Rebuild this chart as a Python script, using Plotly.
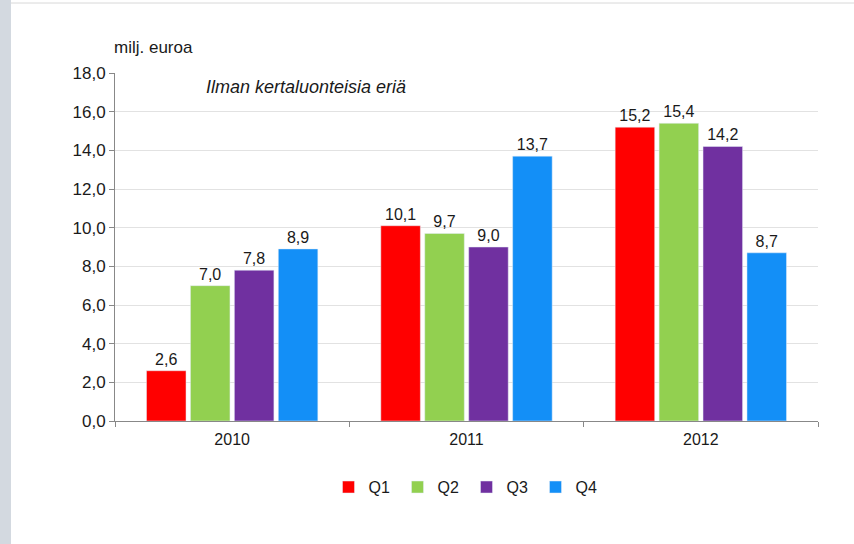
import plotly.graph_objects as go

years = ["2010", "2011", "2012"]
quarters = ["Q1", "Q2", "Q3", "Q4"]
values = {
    "Q1": [2.6, 10.1, 15.2],
    "Q2": [7.0, 9.7, 15.4],
    "Q3": [7.8, 9.0, 14.2],
    "Q4": [8.9, 13.7, 8.7],
}
colors = {"Q1": "#ff0000", "Q2": "#92d050", "Q3": "#7030a0", "Q4": "#138ff7"}

W, H = 854, 544
L, R, T, B = 115, 36, 73, 123
pw = W - L - R
ph = H - T - B

fig = go.Figure()
for q in quarters:
    fig.add_trace(go.Bar(
        x=years, y=values[q], name=q, marker_color=colors[q],
        text=[f"{v:.1f}".replace(".", ",") for v in values[q]],
        textposition="outside", textfont=dict(size=16, color="#1a1a1a"),
        cliponaxis=False,
    ))

font = "Liberation Sans, Arial, sans-serif"
fig.update_layout(
    width=W, height=H,
    margin=dict(l=L, r=R, t=T, b=B),
    paper_bgcolor="white", plot_bgcolor="white",
    font=dict(family=font, size=16, color="#1a1a1a"),
    barmode="group", bargap=0.25, bargroupgap=0.1,
    separators=", ",
    showlegend=True,
    legend=dict(orientation="h", x=0.5, xanchor="center", y=-0.19, yanchor="middle",
                font=dict(size=16), itemwidth=30, entrywidth=24, entrywidthmode="pixels",
                traceorder="normal"),
    xaxis=dict(showline=True, linecolor="#888", ticks="outside", tickson="boundaries",
               ticklen=5, tickcolor="#888", showgrid=False, tickfont=dict(size=16),
               ticklabelstandoff=4),
    yaxis=dict(range=[0, 18], dtick=2, tickformat=".1f", showline=True, linecolor="#888",
               ticks="outside", ticklen=5, tickcolor="#888", gridcolor="#e2e2e2",
               zeroline=False, tickfont=dict(size=17)),
    annotations=[
        dict(text="milj. euroa", xref="paper", yref="paper", x=(112 - L) / pw, y=(H - B - 48) / ph,
             xanchor="left", yanchor="middle", showarrow=False, font=dict(size=17)),
        dict(text="<i>Ilman kertaluonteisia eriä</i>", xref="paper", yref="paper",
             x=(204 - L) / pw, y=(H - B - 87) / ph, xanchor="left", yanchor="middle",
             showarrow=False, font=dict(size=18)),
    ],
    shapes=[
        dict(type="rect", xref="paper", yref="paper", x0=-L / pw, x1=(11 - L) / pw,
             y0=-B / ph, y1=(H - B) / ph, fillcolor="#d3d9e0", line_width=0, layer="below"),
        dict(type="line", xref="paper", yref="paper", x0=(11 - L) / pw, x1=(W - L) / pw,
             y0=(H - B - 3) / ph, y1=(H - B - 3) / ph, line=dict(color="#d8d8d8", width=1)),
    ],
)

fig.write_html("out.html", config={"displayModeBar": False},
               post_script="document.body.style.margin='0';")
